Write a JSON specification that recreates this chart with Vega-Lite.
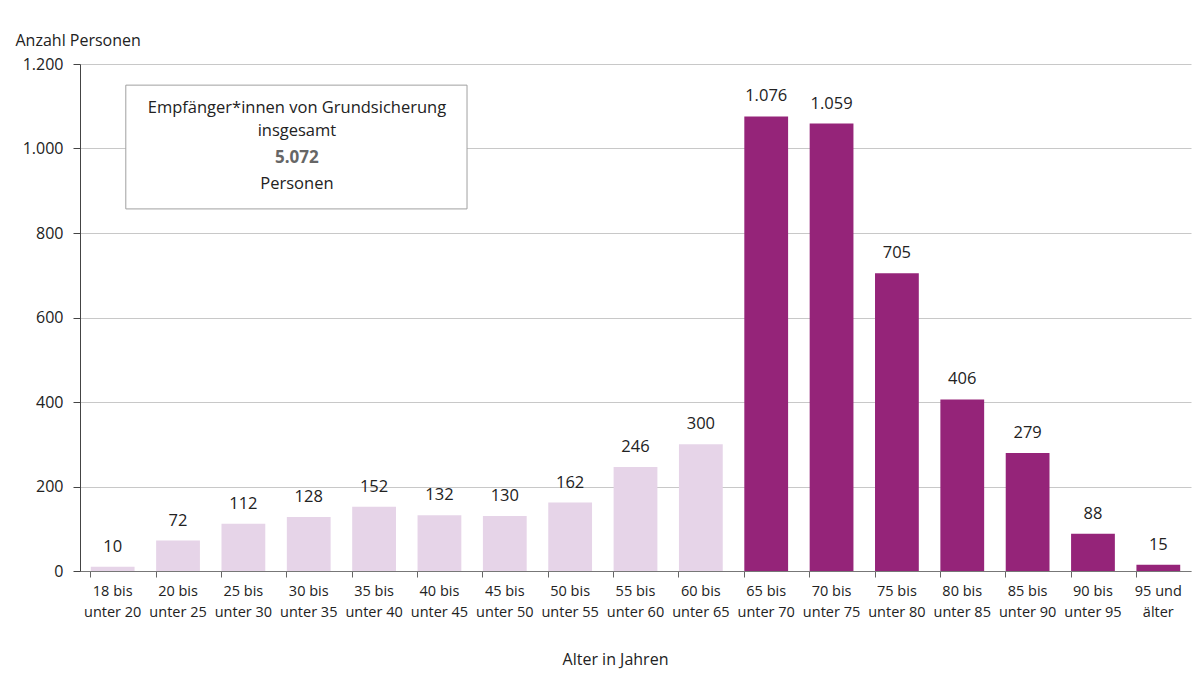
{
  "$schema": "https://vega.github.io/schema/vega-lite/v6.json",
  "width": 1111,
  "height": 507,
  "autosize": "none",
  "padding": {"left": 80, "top": 64, "right": 5, "bottom": 103},
  "background": "white",
  "config": {
    "locale": {"number": {"decimal": ",", "thousands": ".", "grouping": [3], "currency": ["", " €"]}},
    "view": {"stroke": null},
    "font": "Open Sans",
    "text": {"font": "Open Sans"}
  },
  "datasets": {
    "main": [
      {"alter": "18 bis unter 20", "anzahl": 10, "gruppe": "unter 65"},
      {"alter": "20 bis unter 25", "anzahl": 72, "gruppe": "unter 65"},
      {"alter": "25 bis unter 30", "anzahl": 112, "gruppe": "unter 65"},
      {"alter": "30 bis unter 35", "anzahl": 128, "gruppe": "unter 65"},
      {"alter": "35 bis unter 40", "anzahl": 152, "gruppe": "unter 65"},
      {"alter": "40 bis unter 45", "anzahl": 132, "gruppe": "unter 65"},
      {"alter": "45 bis unter 50", "anzahl": 130, "gruppe": "unter 65"},
      {"alter": "50 bis unter 55", "anzahl": 162, "gruppe": "unter 65"},
      {"alter": "55 bis unter 60", "anzahl": 246, "gruppe": "unter 65"},
      {"alter": "60 bis unter 65", "anzahl": 300, "gruppe": "unter 65"},
      {"alter": "65 bis unter 70", "anzahl": 1076, "gruppe": "65 und älter"},
      {"alter": "70 bis unter 75", "anzahl": 1059, "gruppe": "65 und älter"},
      {"alter": "75 bis unter 80", "anzahl": 705, "gruppe": "65 und älter"},
      {"alter": "80 bis unter 85", "anzahl": 406, "gruppe": "65 und älter"},
      {"alter": "85 bis unter 90", "anzahl": 279, "gruppe": "65 und älter"},
      {"alter": "90 bis unter 95", "anzahl": 88, "gruppe": "65 und älter"},
      {"alter": "95 und älter", "anzahl": 15, "gruppe": "65 und älter"}
    ],
    "box": [
      {"von": "18 bis unter 20", "bis": "40 bis unter 45", "oben": 1150, "unten": 857}
    ],
    "boxtext": [
      {"zeile": "Empfänger*innen von Grundsicherung", "pos": "30 bis unter 35", "y": 1096},
      {"zeile": "insgesamt", "pos": "30 bis unter 35", "y": 1041},
      {"zeile": "Personen", "pos": "30 bis unter 35", "y": 916}
    ]
  },
  "layer": [
    {
      "data": {"name": "main"},
      "mark": {"type": "bar"},
      "encoding": {
        "x": {
          "field": "alter", "type": "nominal", "sort": null,
          "scale": {"paddingInner": 0.33, "paddingOuter": 0.165},
          "axis": {
            "title": "Alter in Jahren",
            "titleFont": "Open Sans", "titleFontSize": 16, "titleFontWeight": "normal", "titleColor": "#222",
            "titlePadding": 33, "titleX": 535,
            "labelAngle": 0, "labelFontSize": 14.5, "labelColor": "#222", "labelFont": "Open Sans",
            "labelExpr": "[slice(datum.label,0,6), slice(datum.label,7)]",
            "labelLineHeight": 21, "labelPadding": 7, "labelBaseline": "top",
            "bandPosition": 0, "ticks": true, "tickSize": 6, "tickColor": "#666",
            "domainColor": "#777", "grid": false
          }
        },
        "y": {
          "field": "anzahl", "type": "quantitative",
          "scale": {"domain": [0, 1200]},
          "axis": {
            "title": "Anzahl Personen",
            "titleAngle": 0, "titleAlign": "left", "titleBaseline": "middle",
            "titleX": -65, "titleY": -24,
            "titleFont": "Open Sans", "titleFontSize": 16, "titleFontWeight": "normal", "titleColor": "#222",
            "values": [0, 200, 400, 600, 800, 1000, 1200],
            "format": ",d",
            "labelFontSize": 16, "labelColor": "#222", "labelPadding": 10,
            "tickSize": 7, "tickColor": "#444", "domainColor": "#444",
            "grid": true, "gridColor": "#c8c8c8"
          }
        },
        "color": {
          "field": "gruppe", "type": "nominal",
          "scale": {"domain": ["unter 65", "65 und älter"], "range": ["#e6d4e8", "#952479"]},
          "legend": null
        }
      }
    },
    {
      "data": {"name": "main"},
      "mark": {"type": "text", "baseline": "alphabetic", "dy": -15, "fontSize": 16.5, "color": "#222"},
      "encoding": {
        "x": {"field": "alter", "type": "nominal", "sort": null},
        "y": {"field": "anzahl", "type": "quantitative"},
        "text": {"field": "anzahl", "type": "quantitative", "format": ",d"}
      }
    },
    {
      "data": {"name": "box"},
      "mark": {"type": "rect", "fill": "white", "stroke": "#a0a0a0", "strokeWidth": 1},
      "encoding": {
        "x": {"field": "von", "type": "nominal", "bandPosition": 0.8},
        "x2": {"field": "bis", "bandPosition": 1.13},
        "y": {"field": "oben", "type": "quantitative"},
        "y2": {"field": "unten"}
      }
    },
    {
      "data": {"name": "boxtext"},
      "mark": {"type": "text", "baseline": "middle", "align": "center", "fontSize": 16.5, "color": "#222"},
      "encoding": {
        "x": {"field": "pos", "type": "nominal", "bandPosition": 0.23},
        "y": {"field": "y", "type": "quantitative"},
        "text": {"field": "zeile"}
      }
    },
    {
      "data": {"name": "main"},
      "transform": [{"aggregate": [{"op": "sum", "field": "anzahl", "as": "gesamt"}]}],
      "mark": {"type": "text", "baseline": "middle", "align": "center", "fontSize": 17, "fontWeight": "bold", "color": "#666"},
      "encoding": {
        "x": {"datum": "30 bis unter 35", "type": "nominal", "bandPosition": 0.23},
        "y": {"datum": 977, "type": "quantitative"},
        "text": {"field": "gesamt", "type": "quantitative", "format": ",d"}
      }
    }
  ]
}
